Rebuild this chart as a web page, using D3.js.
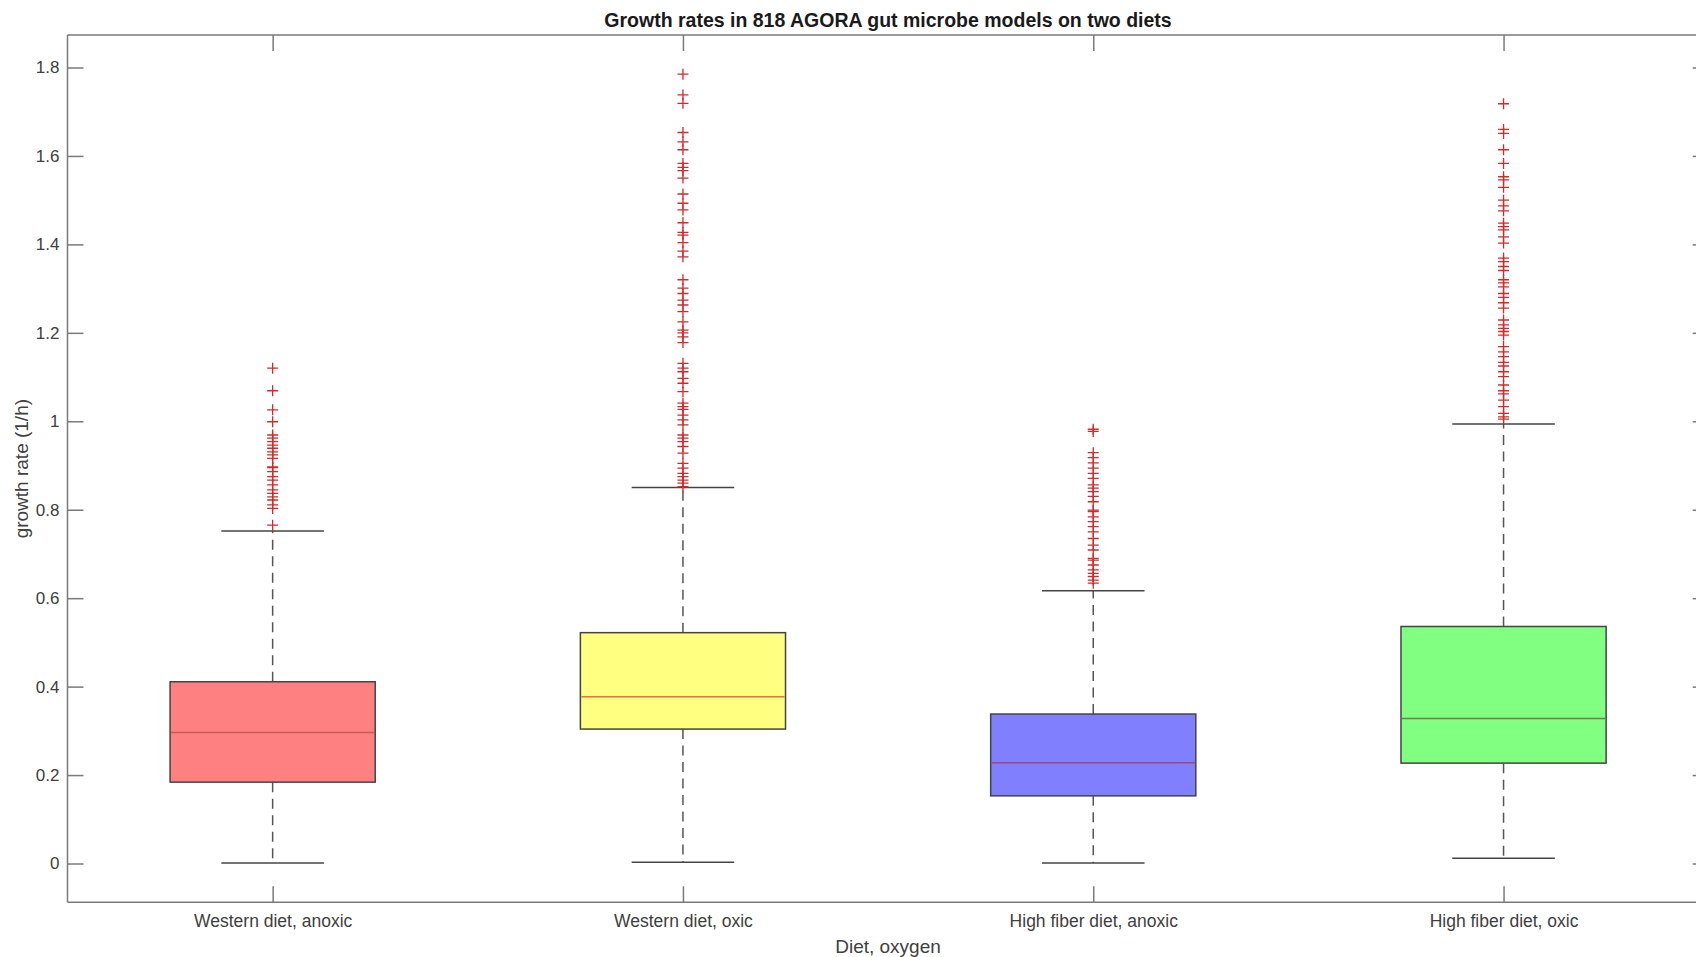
<!DOCTYPE html>
<html>
<head>
<meta charset="utf-8">
<script src="https://cdn.jsdelivr.net/npm/d3@7"></script>
<style>
  body { margin: 0; background: #fff; }
  svg { display: block; font-family: "Liberation Sans", Arial, sans-serif; }
</style>
</head>
<body>
<svg id="chart" width="1696" height="957"></svg>
<script>
// box statistics
const categories = ["Western diet, anoxic", "Western diet, oxic", "High fiber diet, anoxic", "High fiber diet, oxic"];
const whiskLo = [0.001, 0.003, 0.001, 0.012];
const q1 = [0.184, 0.304, 0.153, 0.227];
const medians = [0.296, 0.377, 0.228, 0.328];
const q3 = [0.411, 0.522, 0.338, 0.536];
const whiskHi = [0.752, 0.850, 0.617, 0.994];

const outWesternAnoxic = [1.120, 1.069, 1.026, 0.999, 0.969, 0.962, 0.954, 0.946, 0.939, 0.931, 0.924, 0.916,
  0.897, 0.895, 0.886, 0.875, 0.867, 0.856, 0.845, 0.837, 0.829, 0.822, 0.811, 0.803, 0.765];
const outWesternOxic = [1.785, 1.738, 1.719, 1.653, 1.632, 1.614, 1.583, 1.574, 1.567, 1.550, 1.514, 1.493, 1.478,
  1.449, 1.427, 1.421, 1.404, 1.385, 1.372, 1.320, 1.301, 1.289, 1.274, 1.263, 1.248, 1.225, 1.206, 1.200, 1.191,
  1.178, 1.131, 1.120, 1.112, 1.097, 1.086, 1.067, 1.041, 1.033, 1.027, 1.014, 1.003, 0.992, 0.969, 0.962, 0.954,
  0.943, 0.928, 0.905, 0.894, 0.882, 0.875, 0.867, 0.860, 0.852];
const outFiberAnoxic = [0.982, 0.977, 0.929, 0.918, 0.906, 0.894, 0.882, 0.871, 0.856, 0.849, 0.841, 0.830, 0.818,
  0.799, 0.796, 0.784, 0.773, 0.762, 0.750, 0.735, 0.720, 0.709, 0.690, 0.686, 0.675, 0.664, 0.656, 0.649, 0.641, 0.634];
const outFiberOxic = [1.718, 1.660, 1.651, 1.614, 1.583, 1.553, 1.546, 1.529, 1.500, 1.487, 1.476, 1.448, 1.440,
  1.433, 1.417, 1.403, 1.369, 1.361, 1.350, 1.341, 1.320, 1.313, 1.304, 1.289, 1.280, 1.268, 1.256, 1.229, 1.218,
  1.210, 1.203, 1.195, 1.169, 1.157, 1.146, 1.133, 1.125, 1.112, 1.101, 1.082, 1.069, 1.062, 1.048, 1.033, 1.018,
  1.010, 1.005];
const outliers = [outWesternAnoxic, outWesternOxic, outFiberAnoxic, outFiberOxic];
const yTicks = [0, 0.2, 0.4, 0.6, 0.8, 1, 1.2, 1.4, 1.6, 1.8];

const boxFill = ["#ff8080", "#ffff80", "#8080ff", "#80ff80"];
const medianColor = ["#c85a5a", "#f06a4a", "#9a4a7a", "#7a7a4a"];

const svg = d3.select("#chart");
const axisColor = "#7a7a7a";
const textColor = "#404040";

// the plot area runs past the right edge of the picture, as in the original
const x = d3.scaleLinear().domain([0.5, 4.5]).range([67.5, 1708.7]);
const y = d3.scaleLinear().domain([-0.0877, 1.8735]).range([902.3, 35]);
const plotTop = y.range()[1], plotBottom = y.range()[0];
const plotLeft = x.range()[0], plotRight = x.range()[1];
const tickLen = 16;

// frame
const frame = svg.append("g").attr("stroke", axisColor).attr("stroke-width", 1.5).attr("fill", "none");
frame.append("line").attr("x1", plotLeft).attr("x2", plotRight).attr("y1", plotTop).attr("y2", plotTop);
frame.append("line").attr("x1", plotLeft).attr("x2", plotRight).attr("y1", plotBottom).attr("y2", plotBottom);
frame.append("line").attr("x1", plotLeft).attr("x2", plotLeft).attr("y1", plotTop).attr("y2", plotBottom);
frame.append("line").attr("x1", plotRight).attr("x2", plotRight).attr("y1", plotTop).attr("y2", plotBottom);

// y axis (left, inward ticks) plus the mirrored ticks on the right
const yAxis = svg.append("g")
  .attr("transform", `translate(${plotLeft},0)`)
  .call(d3.axisLeft(y).tickValues(yTicks).tickSize(-tickLen).tickPadding(8).tickFormat(d3.format("~g")));
yAxis.select(".domain").remove();
yAxis.selectAll(".tick line").attr("stroke", axisColor).attr("stroke-width", 1.5);
yAxis.selectAll(".tick text").attr("fill", textColor).attr("font-size", 17)
  .attr("font-family", "Liberation Sans, Arial, sans-serif");

const yRight = svg.append("g")
  .attr("transform", `translate(${plotRight},0)`)
  .call(d3.axisRight(y).tickValues(yTicks).tickSize(-tickLen).tickFormat(""));
yRight.select(".domain").remove();
yRight.selectAll(".tick line").attr("stroke", axisColor).attr("stroke-width", 1.5);

// x axis (bottom) with top ticks
const xAxis = svg.append("g")
  .attr("transform", `translate(0,${plotBottom})`)
  .call(d3.axisBottom(x).tickValues([1, 2, 3, 4]).tickSize(-tickLen).tickPadding(12)
    .tickFormat(d => categories[d - 1]));
xAxis.select(".domain").remove();
xAxis.selectAll(".tick line").attr("stroke", axisColor).attr("stroke-width", 1.5);
xAxis.selectAll(".tick text").attr("fill", textColor).attr("font-size", 17.5)
  .attr("font-family", "Liberation Sans, Arial, sans-serif");

const xTop = svg.append("g")
  .attr("transform", `translate(0,${plotTop})`)
  .call(d3.axisTop(x).tickValues([1, 2, 3, 4]).tickSize(-tickLen).tickFormat(""));
xTop.select(".domain").remove();
xTop.selectAll(".tick line").attr("stroke", axisColor).attr("stroke-width", 1.5);

// boxes
const boxW = 0.25, capW = 0.125;
const boxes = svg.append("g").selectAll("g")
  .data(categories.map((c, i) => ({
    pos: i + 1, lo: whiskLo[i], q1: q1[i], med: medians[i], q3: q3[i], hi: whiskHi[i], out: outliers[i], i
  })))
  .join("g");

// dashed whiskers
boxes.append("line")
  .attr("x1", d => x(d.pos)).attr("x2", d => x(d.pos))
  .attr("y1", d => y(d.q3)).attr("y2", d => y(d.hi))
  .attr("stroke", "#555").attr("stroke-width", 1.5).attr("stroke-dasharray", "10,6.5");
boxes.append("line")
  .attr("x1", d => x(d.pos)).attr("x2", d => x(d.pos))
  .attr("y1", d => y(d.q1)).attr("y2", d => y(d.lo))
  .attr("stroke", "#555").attr("stroke-width", 1.5).attr("stroke-dasharray", "10,6.5");
// caps
boxes.append("line")
  .attr("x1", d => x(d.pos - capW)).attr("x2", d => x(d.pos + capW))
  .attr("y1", d => y(d.hi)).attr("y2", d => y(d.hi))
  .attr("stroke", "#444").attr("stroke-width", 1.5);
boxes.append("line")
  .attr("x1", d => x(d.pos - capW)).attr("x2", d => x(d.pos + capW))
  .attr("y1", d => y(d.lo)).attr("y2", d => y(d.lo))
  .attr("stroke", "#444").attr("stroke-width", 1.5);
// box
boxes.append("rect")
  .attr("x", d => x(d.pos - boxW))
  .attr("width", d => x(d.pos + boxW) - x(d.pos - boxW))
  .attr("y", d => y(d.q3))
  .attr("height", d => y(d.q1) - y(d.q3))
  .attr("fill", d => boxFill[d.i])
  .attr("stroke", "#444").attr("stroke-width", 1.5);
// median
boxes.append("line")
  .attr("x1", d => x(d.pos - boxW) + 1).attr("x2", d => x(d.pos + boxW) - 1)
  .attr("y1", d => y(d.med)).attr("y2", d => y(d.med))
  .attr("stroke", d => medianColor[d.i]).attr("stroke-width", 1.5);

// outliers as red plus signs
boxes.selectAll("path.out")
  .data(d => d.out.map(v => ({ pos: d.pos, v })))
  .join("path")
  .attr("class", "out")
  .attr("transform", d => `translate(${x(d.pos)},${y(d.v)})`)
  .attr("d", "M-5.5,0H5.5M0,-5.5V5.5")
  .attr("stroke", "#d42a2a").attr("stroke-width", 1.3).attr("fill", "none");

// title and axis labels
svg.append("text")
  .attr("x", 888).attr("y", 27)
  .attr("text-anchor", "middle").attr("font-size", 19.5).attr("font-weight", "bold").attr("fill", "#1a1a1a")
  .text("Growth rates in 818 AGORA gut microbe models on two diets");

svg.append("text")
  .attr("x", 888).attr("y", 953)
  .attr("text-anchor", "middle").attr("font-size", 19).attr("fill", textColor)
  .text("Diet, oxygen");

svg.append("text")
  .attr("transform", `translate(28,${(plotTop + plotBottom) / 2}) rotate(-90)`)
  .attr("text-anchor", "middle").attr("font-size", 19).attr("fill", textColor)
  .text("growth rate (1/h)");
</script>
</body>
</html>
